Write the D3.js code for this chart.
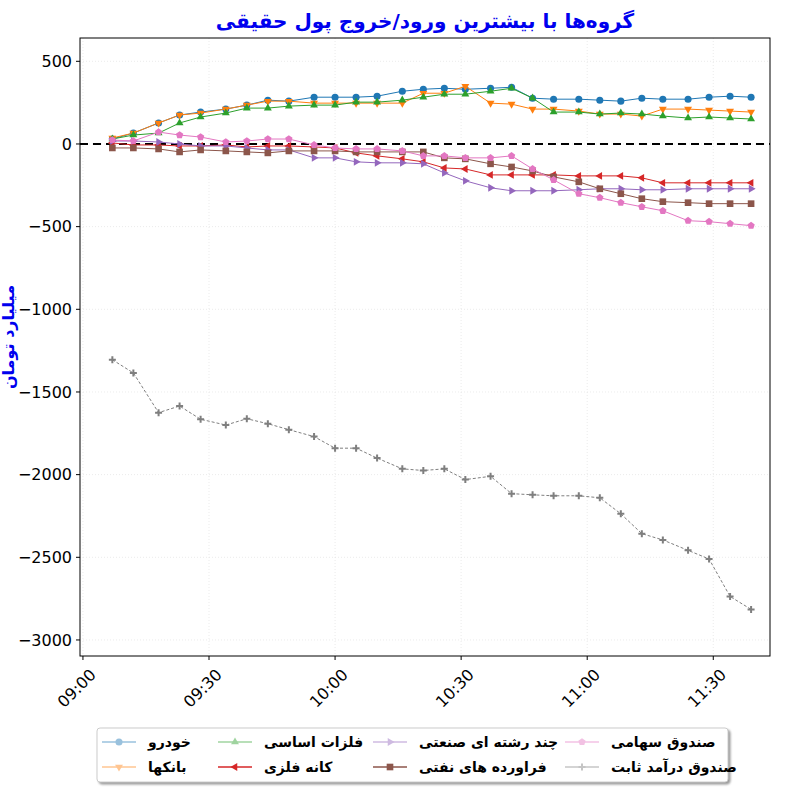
<!DOCTYPE html>
<html><head><meta charset="utf-8">
<script src="https://cdn.jsdelivr.net/npm/d3@7"></script>
<style>body{margin:0;background:#fff}</style>
</head><body>
<svg id="chart" width="800" height="800"></svg>
<script>
// times of the samples (HH:MM)
const times = ['09:07','09:12','09:18','09:23','09:28','09:34','09:39','09:44','09:49','09:55',
  '10:00','10:05','10:10','10:16','10:21','10:26','10:31','10:37','10:42','10:47',
  '10:52','10:58','11:03','11:08','11:13','11:18','11:24','11:29','11:34','11:39']

const khodro = [30,66,127,175,193,211,235,265,259,283,283,283,289,319,331,337,331,337,343,277,271,271,265,259,277,271,271,283,289,283]
const banks = [36,66,127,175,187,211,235,259,259,247,247,247,247,247,307,307,349,247,241,211,211,199,181,181,169,211,211,205,199,193]
const felezat = [30,54,66,127,163,187,217,217,229,235,235,253,253,265,283,301,301,319,337,277,193,193,181,187,181,169,157,163,157,151]
const kaneh = [6,-6,-6,-12,-12,-6,-18,-12,-12,-18,-24,-54,-72,-90,-108,-145,-151,-187,-187,-187,-187,-193,-193,-193,-205,-235,-235,-235,-235,-235]
const chand = [18,18,12,0,-12,-12,-24,-36,-36,-84,-84,-108,-114,-114,-120,-175,-223,-265,-283,-283,-283,-277,-271,-271,-277,-277,-271,-271,-271,-271]
const faravardeh = [-24,-24,-30,-48,-36,-42,-48,-54,-42,-42,-42,-48,-48,-48,-48,-84,-90,-120,-139,-163,-199,-229,-271,-301,-331,-349,-355,-361,-361,-361]
const sahami = [24,18,72,54,42,12,18,30,30,-6,-24,-30,-30,-42,-72,-72,-84,-84,-72,-151,-217,-301,-325,-355,-380,-404,-464,-470,-482,-494]
const sabet = [-1305,-1385,-1625,-1585,-1665,-1700,-1662,-1692,-1728,-1770,-1840,-1840,-1900,-1965,-1975,-1965,-2030,-2010,-2115,-2122,-2128,-2128,-2140,-2237,-2357,-2395,-2458,-2510,-2737,-2815]

const yTicks = [500,0,-500,-1000,-1500,-2000,-2500,-3000]
const xTicks = ['09:00','09:30','10:00','10:30','11:00','11:30']

const series = [
  { name: 'خودرو', values: khodro, color: '#1f77b4', marker: 'circle' },
  { name: 'بانکها', values: banks, color: '#ff7f0e', marker: 'tridown' },
  { name: 'فلزات اساسی', values: felezat, color: '#2ca02c', marker: 'triup' },
  { name: 'کانه فلزی', values: kaneh, color: '#d62728', marker: 'trileft' },
  { name: 'چند رشته ای صنعتی', values: chand, color: '#9467bd', marker: 'triright' },
  { name: 'فراورده های نفتی', values: faravardeh, color: '#8c564b', marker: 'square' },
  { name: 'صندوق سهامی', values: sahami, color: '#e377c2', marker: 'pentagon' },
  { name: 'صندوق درآمد ثابت', values: sabet, color: '#7f7f7f', marker: 'plus' }
]

const svg = d3.select('#chart')
const parse = d3.timeParse('%H:%M')
const mLeft = 80, mRight = 770, mTop = 38, mBottom = 656

const x = d3.scaleTime()
  .domain([new Date(1900, 0, 1, 8, 59, 18), new Date(1900, 0, 1, 11, 43, 30)])
  .range([mLeft, mRight])
const y = d3.scaleLinear().domain([641, -3097]).range([mTop, mBottom])

// grid
xTicks.forEach(t => {
  svg.append('line').attr('x1', x(parse(t))).attr('x2', x(parse(t))).attr('y1', mTop).attr('y2', mBottom)
    .attr('stroke', '#ddd').attr('stroke-width', 0.6).attr('stroke-dasharray', '1,2')
})
yTicks.forEach(t => {
  svg.append('line').attr('x1', mLeft).attr('x2', mRight).attr('y1', y(t)).attr('y2', y(t))
    .attr('stroke', '#ddd').attr('stroke-width', 0.6).attr('stroke-dasharray', '1,2')
})

// zero line
svg.append('line').attr('x1', mLeft).attr('x2', mRight).attr('y1', y(0)).attr('y2', y(0))
  .attr('stroke', 'black').attr('stroke-width', 2).attr('stroke-dasharray', '8,5')

function markerPath(type, s) {
  switch (type) {
    case 'circle': return d3.symbol(d3.symbolCircle, s * s * 0.8)()
    case 'square': return d3.symbol(d3.symbolSquare, s * s * 0.9)()
    case 'plus': return `M${-s/2},0H${s/2}M0,${-s/2}V${s/2}`
    case 'pentagon': {
      let p = []
      for (let i = 0; i < 5; i++) { let a = -Math.PI / 2 + i * 2 * Math.PI / 5; p.push([s * 0.55 * Math.cos(a), s * 0.55 * Math.sin(a)]) }
      return 'M' + p.join('L') + 'Z'
    }
    default: {
      let rot = { triup: 0, tridown: 180, trileft: -90, triright: 90 }[type]
      return { d: d3.symbol(d3.symbolTriangle, s * s * 0.55)(), rot }
    }
  }
}

function drawMarker(g, type, cx, cy, color, s) {
  let m = markerPath(type, s)
  if (typeof m === 'object') {
    g.append('path').attr('d', m.d).attr('transform', `translate(${cx},${cy}) rotate(${m.rot})`).attr('fill', color)
  } else if (type === 'plus') {
    g.append('path').attr('d', m).attr('transform', `translate(${cx},${cy})`).attr('stroke', color).attr('stroke-width', 2)
  } else {
    g.append('path').attr('d', m).attr('transform', `translate(${cx},${cy})`).attr('fill', color)
  }
}

const line = d3.line().x((d, i) => x(parse(times[i]))).y(d => y(d))
series.forEach(sr => {
  let g = svg.append('g')
  g.append('path').datum(sr.values).attr('d', line).attr('fill', 'none')
    .attr('stroke', sr.color).attr('stroke-width', 1).attr('stroke-dasharray', sr.marker === 'plus' ? '3,2' : null)
  sr.values.forEach((v, i) => drawMarker(g, sr.marker, x(parse(times[i])), y(v), sr.color, 7))
})

// frame
svg.append('rect').attr('x', mLeft).attr('y', mTop).attr('width', mRight - mLeft).attr('height', mBottom - mTop)
  .attr('fill', 'none').attr('stroke', 'black').attr('stroke-width', 1)

// y ticks
yTicks.forEach(t => {
  svg.append('line').attr('x1', mLeft - 4).attr('x2', mLeft).attr('y1', y(t)).attr('y2', y(t)).attr('stroke', 'black')
  svg.append('text').attr('x', mLeft - 8).attr('y', y(t)).attr('dy', '0.35em').attr('text-anchor', 'end')
    .attr('font-family', 'DejaVu Sans').attr('font-size', 16).text(t < 0 ? '\u2212' + Math.abs(t) : t)
})
// x ticks
xTicks.forEach(t => {
  let px = x(parse(t))
  svg.append('line').attr('x1', px).attr('x2', px).attr('y1', mBottom).attr('y2', mBottom + 4).attr('stroke', 'black')
  svg.append('text').attr('transform', `translate(${px + 6},${mBottom + 12}) rotate(-45)`).attr('text-anchor', 'end')
    .attr('dy', '0.7em').attr('font-family', 'DejaVu Sans').attr('font-size', 16).text(t)
})

// title and y label
svg.append('text').attr('x', (mLeft + mRight) / 2).attr('y', 28).attr('text-anchor', 'middle')
  .attr('font-family', 'DejaVu Sans').attr('font-weight', 'bold').attr('font-size', 20).attr('fill', '#0000ee')
  .text('گروه‌ها با بیشترین ورود/خروج پول حقیقی')
svg.append('text').attr('transform', `translate(14,${(mTop + mBottom) / 2 - 10}) rotate(-90)`).attr('text-anchor', 'middle')
  .attr('font-family', 'DejaVu Sans').attr('font-weight', 'bold').attr('font-size', 16)
  .attr('fill', '#0000ee').text('میلیارد تومان')

// legend
const lg = svg.append('g')
lg.append('rect').attr('x', 97).attr('y', 728).attr('width', 631).attr('height', 54).attr('rx', 3)
  .attr('fill', 'white').attr('stroke', '#ccc').style('filter', 'drop-shadow(2px 2px 1px #999)')
const colX = [102, 218, 373, 565]
series.forEach((sr, i) => {
  let cx = colX[Math.floor(i / 2)], cy = 742 + (i % 2) * 25
  let gl = lg.append('g').attr('opacity', sr.marker === 'trileft' || sr.marker === 'square' ? 1 : 0.45)
  gl.append('line').attr('x1', cx).attr('x2', cx + 34).attr('y1', cy).attr('y2', cy).attr('stroke', sr.color).attr('stroke-width', 1.5)
  drawMarker(gl, sr.marker, cx + 17, cy, sr.color, 7)
  lg.append('text').attr('x', cx + 46).attr('y', cy).attr('dy', '0.35em').attr('text-anchor', 'start')
    .attr('font-family', 'DejaVu Sans').attr('font-weight', 'bold').attr('font-size', 14).text(sr.name)
})
</script>
</body></html>
